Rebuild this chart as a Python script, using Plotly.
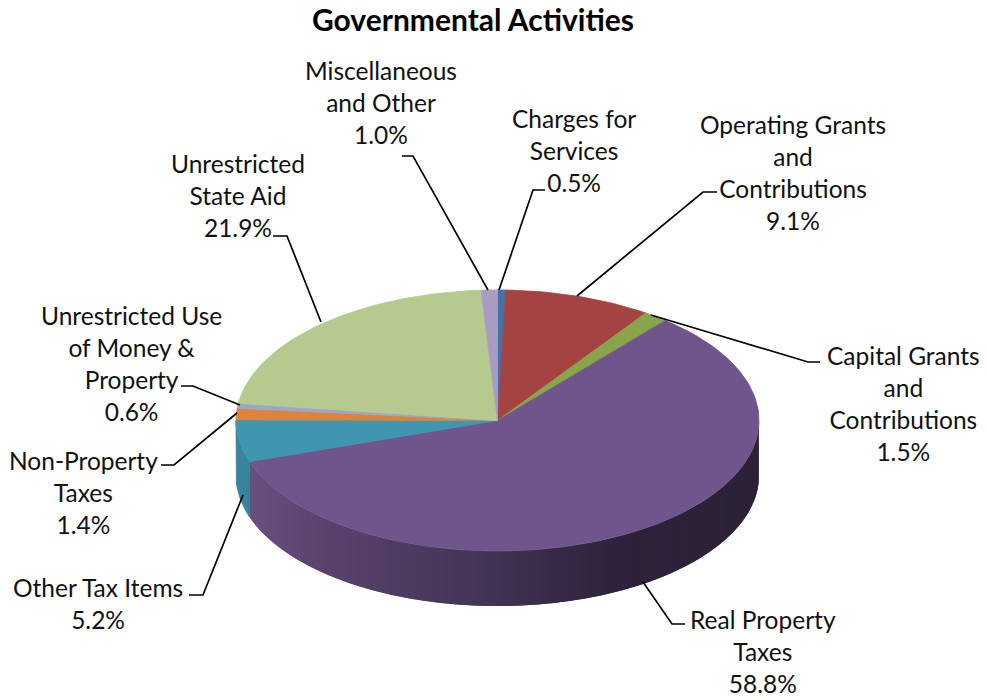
import math
import plotly.graph_objects as go

# ---- data ----
categories = ["Charges for<br>Services", "Operating Grants<br>and<br>Contributions",
              "Capital Grants<br>and<br>Contributions", "Real Property<br>Taxes",
              "Other Tax Items", "Non-Property<br>Taxes",
              "Unrestricted Use<br>of Money &<br>Property", "Unrestricted<br>State Aid",
              "Miscellaneous<br>and Other"]
values = [0.5, 9.1, 1.5, 58.8, 5.2, 1.4, 0.6, 21.9, 1.0]
colors = ["#4073ad", "#a54340", "#88a54b", "#70558c", "#3f96ae", "#dd833a", "#9aa8c8", "#b6ca8f", "#a99cc2"]
title = "Governmental Activities"

# ---- layout ----
CX, CY, RX, RY, DEPTH = 497.5, 420.5, 261.5, 130.5, 55
label_pos = [(574, 150), (793, 172), (903, 403), (763, 651), (98, 603), (83, 492), (131, 363), (238, 195), (381, 102)]
leaders = [
    [(545, 190), (533, 190), (499, 290)],
    [(717, 192), (703, 192), (577, 296)],
    [(651, 315), (808, 362), (820, 362)],
    [(643, 582), (672, 624), (685, 624)],
    [(189, 595), (203, 595), (243, 495)],
    [(161, 465), (174, 465), (237, 413)],
    [(181, 386), (193, 386), (240, 405)],
    [(273, 236), (287, 236), (321, 322)],
    [(402, 156), (413, 156), (488, 290)],
]

def pt(deg, dy=0.0):
    a = math.radians(deg)
    return CX + RX * math.sin(a), CY - RY * math.cos(a) + dy

def mix(stops, t):
    for (t0, c0), (t1, c1) in zip(stops, stops[1:]):
        if t <= t1:
            f = max(0, (t - t0) / (t1 - t0))
            return "rgb(%d,%d,%d)" % tuple(round(c0[i] + (c1[i] - c0[i]) * f) for i in range(3))
    return "rgb(%d,%d,%d)" % stops[-1][1]

purple_side = [(248, (104, 80, 128)), (330, (88, 66, 108)), (480, (68, 52, 86)), (620, (46, 34, 58)), (760, (44, 34, 54))]

fig = go.Figure()

def poly(xs, ys, color, lw=0.8):
    fig.add_trace(go.Scatter(x=xs, y=ys, mode="lines", fill="toself", fillcolor=color,
                             line=dict(color=color, width=lw), hoverinfo="skip", showlegend=False))

cum = [0.0]
for v in values:
    cum.append(cum[-1] + v)
angles = [c / cum[-1] * 360 for c in cum]

# side walls: only the front-facing part, between 90 and 270 degrees
real_i = 3
a0, a1 = angles[real_i], angles[real_i + 1]
deg = 90.0
step = 1.0
while deg < a1 - 1e-6:
    d2 = min(deg + step, a1)
    d3 = min(deg + 2 * step, a1)  # each band overlaps the next to hide seams
    arc = [pt(deg + (d3 - deg) * k / 4) for k in range(5)]
    xs = [p[0] for p in arc]
    ys = [p[1] for p in arc]
    mx = (pt(deg)[0] + pt(d2)[0]) / 2
    poly(xs + xs[::-1] + xs[:1], ys + [y + DEPTH for y in ys[::-1]] + ys[:1], mix(purple_side, mx), 0)
    deg = d2
# other tax items wall
ax = [pt(a1 + (270 - a1) * k / 12)[0] for k in range(13)]
ay = [pt(a1 + (270 - a1) * k / 12)[1] for k in range(13)]
poly(ax + ax[::-1] + ax[:1], ay + [y + DEPTH for y in ay[::-1]] + ay[:1], "#38849c")

# top faces
for i, v in enumerate(values):
    a, b = angles[i], angles[i + 1]
    n = max(3, int((b - a) / 1.5))
    pts = [pt(a + (b - a) * k / n) for k in range(n + 1)]
    xs = [CX] + [p[0] for p in pts] + [CX]
    ys = [CY] + [p[1] for p in pts] + [CY]
    poly(xs, ys, colors[i])

# leader lines
for seg in leaders:
    fig.add_trace(go.Scatter(x=[p[0] for p in seg], y=[p[1] for p in seg], mode="lines",
                             line=dict(color="black", width=1.7), hoverinfo="skip", showlegend=False))

FONT = "Lato"
for c, v, (x, y) in zip(categories, values, label_pos):
    fig.add_annotation(x=x, y=y, xref="x", yref="y", text=f"{c}<br>{v:.1f}%", showarrow=False,
                       align="center", xanchor="center", yanchor="middle",
                       font=dict(family=FONT, size=24.5, color="#111111"))
fig.add_annotation(x=473, y=19, xref="x", yref="y", text=f"<b>{title}</b>", showarrow=False,
                   font=dict(family=FONT, size=30, color="black"))

fig.update_layout(width=987, height=700, margin=dict(l=0, r=0, t=0, b=0), autosize=False,
                  paper_bgcolor="white", plot_bgcolor="white", showlegend=False,
                  xaxis=dict(range=[0, 987], visible=False, fixedrange=True),
                  yaxis=dict(range=[700, 0], visible=False, fixedrange=True))
fig.write_html("out.html", config=dict(displayModeBar=False),
               post_script="document.body.style.margin='0';"
                           "var s=document.createElement('style');"
                           "s.textContent='text{font-variant-ligatures:none}';"
                           "document.head.appendChild(s);")
